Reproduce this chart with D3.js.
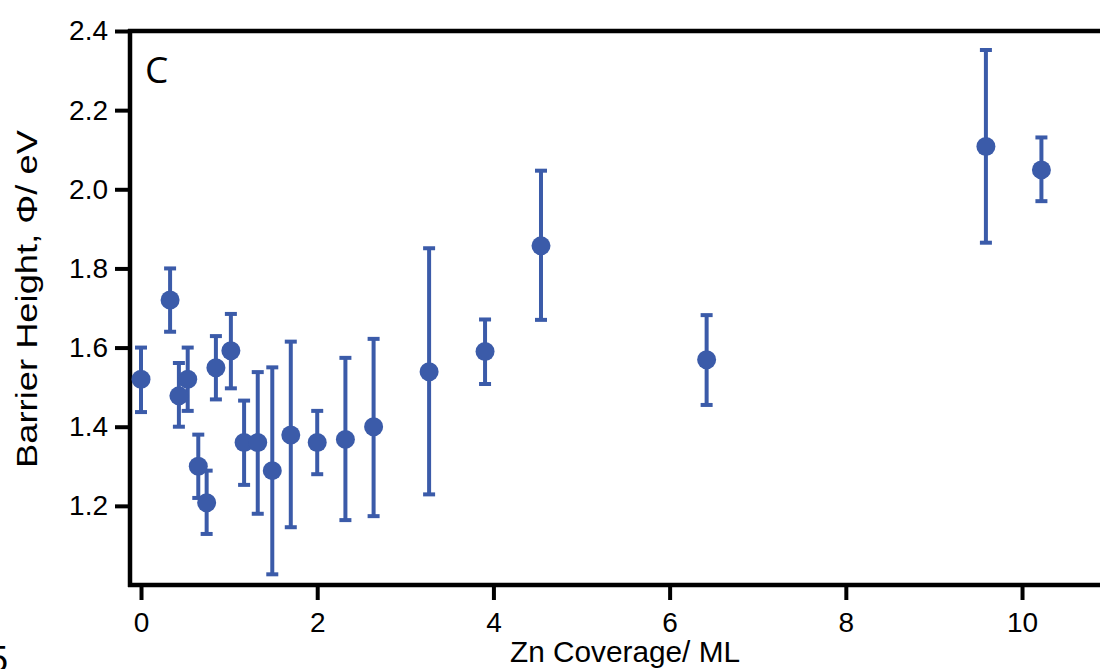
<!DOCTYPE html>
<html>
<head>
<meta charset="utf-8">
<script src="https://cdn.jsdelivr.net/npm/d3@7"></script>
<style>
  body { margin: 0; background: #fff; }
  svg { display: block; }
  .tick text { font-family: "Liberation Sans", Arial, sans-serif; fill: #000; }
</style>
</head>
<body>
<svg id="chart" width="1100" height="669"></svg>
<script>
'use strict';

// Zn coverage (ML), barrier height (eV), lower and upper error bar ends
var coverage = [0, 0.33, 0.43, 0.53, 0.65, 0.745, 0.85, 1.02, 1.17, 1.325, 1.49, 1.70, 2.0, 2.32, 2.64, 3.27, 3.905, 4.54, 6.42, 9.59, 10.22];
var barrier  = [1.52, 1.72, 1.478, 1.52, 1.30, 1.208, 1.549, 1.592, 1.36, 1.36, 1.289, 1.379, 1.36, 1.368, 1.40, 1.539, 1.59, 1.857, 1.569, 2.108, 2.049];
var errLow   = [1.437, 1.64, 1.40, 1.44, 1.22, 1.129, 1.469, 1.497, 1.253, 1.18, 1.027, 1.146, 1.28, 1.164, 1.174, 1.229, 1.508, 1.67, 1.455, 1.865, 1.97];
var errHigh  = [1.60, 1.80, 1.561, 1.60, 1.38, 1.289, 1.629, 1.685, 1.466, 1.538, 1.55, 1.615, 1.44, 1.574, 1.622, 1.851, 1.671, 2.047, 1.682, 2.352, 2.131];

var xTicks = [0, 2, 4, 6, 8, 10];
var yTicks = [1.2, 1.4, 1.6, 1.8, 2.0, 2.2, 2.4];

var blue = '#3b5ba9';
var svg = d3.select('#chart');

var x = d3.scaleLinear().domain([-0.125, 10.885]).range([130, 1100]);
var y = d3.scaleLinear().domain([1.0, 2.4]).range([585, 31]);

var points = coverage.map(function(d, i) {
    return {x: d, y: barrier[i], lo: errLow[i], hi: errHigh[i]};
});

// frame: top line, left axis, bottom axis
svg.append('line')
    .attr('x1', x.range()[0] - 2).attr('x2', 1100)
    .attr('y1', y(2.4)).attr('y2', y(2.4))
    .attr('stroke', '#000').attr('stroke-width', 4.5);

var xAxis = svg.append('g')
    .attr('transform', 'translate(0,' + y.range()[0] + ')')
    .call(d3.axisBottom(x).tickValues(xTicks).tickFormat(d3.format('d')).tickSize(15).tickPadding(12).tickSizeOuter(0));
var yAxis = svg.append('g')
    .attr('transform', 'translate(' + x.range()[0] + ',0)')
    .call(d3.axisLeft(y).tickValues(yTicks).tickFormat(d3.format('.1f')).tickSize(15).tickPadding(7).tickSizeOuter(0));

[xAxis, yAxis].forEach(function(a) {
    a.select('.domain').attr('stroke', '#000').attr('stroke-width', 4.5);
    a.selectAll('.tick line').attr('stroke', '#000').attr('stroke-width', 4);
    a.selectAll('.tick text').style('font-size', '28px');
});
// bottom axis line reaches the left axis corner
xAxis.select('.domain').attr('d', 'M' + (x.range()[0] - 2) + ',0H1100');
yAxis.select('.domain').attr('d', 'M0,' + (y.range()[0] + 2) + 'V' + (y.range()[1] - 2));

// error bars
var bars = svg.append('g').attr('class', 'errorbars');
bars.selectAll('line.stem').data(points).enter()
    .append('line').attr('class', 'stem')
    .attr('x1', function(d) { return x(d.x); })
    .attr('x2', function(d) { return x(d.x); })
    .attr('y1', function(d) { return y(d.lo); })
    .attr('y2', function(d) { return y(d.hi); })
    .attr('stroke', blue).attr('stroke-width', 4);
['lo', 'hi'].forEach(function(k) {
    bars.selectAll('line.cap-' + k).data(points).enter()
        .append('line').attr('class', 'cap-' + k)
        .attr('x1', function(d) { return x(d.x) - 6; })
        .attr('x2', function(d) { return x(d.x) + 6; })
        .attr('y1', function(d) { return y(d[k]); })
        .attr('y2', function(d) { return y(d[k]); })
        .attr('stroke', blue).attr('stroke-width', 4);
});

svg.append('g').selectAll('circle').data(points).enter()
    .append('circle')
    .attr('cx', function(d) { return x(d.x); })
    .attr('cy', function(d) { return y(d.y); })
    .attr('r', 9.5)
    .attr('fill', blue);

// labels
svg.append('text')
    .attr('x', 145).attr('y', 83)
    .style('font-family', '"Open Sans", sans-serif').style('font-size', '37px')
    .text('C');

svg.append('text')
    .attr('x', 625).attr('y', 662)
    .attr('text-anchor', 'middle')
    .attr('textLength', 230).attr('lengthAdjust', 'spacingAndGlyphs')
    .style('font-family', '"Liberation Sans", Arial, sans-serif').style('font-size', '29px')
    .text('Zn Coverage/ ML');

svg.append('text')
    .attr('transform', 'translate(37,299) rotate(-90)')
    .attr('text-anchor', 'middle')
    .attr('textLength', 338).attr('lengthAdjust', 'spacingAndGlyphs')
    .style('font-family', '"Liberation Sans", Arial, sans-serif').style('font-size', '30px')
    .text('Barrier Height,  \u03a6/ eV');

// stray digit at the cropped lower-left corner of the source figure
svg.append('text')
    .attr('x', -12).attr('y', 672)
    .style('font-family', '"Liberation Sans", Arial, sans-serif').style('font-size', '36px')
    .text('5');
</script>
</body>
</html>
